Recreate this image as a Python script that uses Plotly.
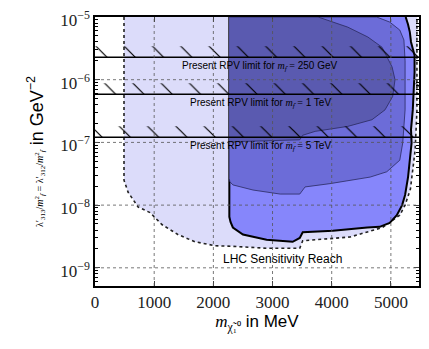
import math

import plotly.graph_objects as go

# axis ticks
x_ticks = [0, 1000, 2000, 3000, 4000, 5000]
y_ticks = [1e-9, 1e-8, 1e-7, 1e-6, 1e-5]
y_ticktext = ["10<sup>−9</sup>", "10<sup>−8</sup>", "10<sup>−7</sup>", "10<sup>−6</sup>", "10<sup>−5</sup>"]

# light region: everything probed (dotted boundary)
reach_x = [490, 490, 560, 730, 930, 1130, 1400, 1690, 2030, 2330, 2900, 3460, 3510, 3750,
           4310, 4860, 5150, 5240, 5330, 5410, 5440, 5440]
reach_y = [1e-5, 2.5e-8, 1.6e-8, 9.3e-9, 7.6e-9, 4.9e-9, 3.4e-9, 2.6e-9, 2.25e-9, 2.2e-9,
           2.05e-9, 2.05e-9, 2.7e-9, 2.8e-9, 3.1e-9, 4.4e-9, 6.9e-9, 1.0e-8, 1.8e-8, 7.6e-8,
           3.2e-7, 1e-5]

# LHC sensitivity reach (thick black outline)
lhc_x = [2270, 2270, 2290, 2330, 2500, 2900, 3340, 3460, 3510, 4020, 4600, 4810, 4980, 5100,
         5190, 5240, 5290, 5350, 5340, 5370, 5400, 5400, 5340, 5320, 5290, 5250]
lhc_y = [1e-5, 6.5e-9, 5.4e-9, 4.4e-9, 3.4e-9, 2.8e-9, 2.6e-9, 3.0e-9, 3.7e-9, 3.9e-9, 4.4e-9,
         4.5e-9, 5.2e-9, 6.9e-9, 1.0e-8, 1.45e-8, 2.8e-8, 9.8e-8, 1.6e-7, 3.3e-7, 1.3e-6,
         2.45e-6, 4.0e-6, 5.75e-6, 7.6e-6, 1e-5]

# inner contour
mid_x = [2270, 4760, 4980, 5150, 5220, 5240, 5240, 5200, 5150, 4930, 4650, 4360, 3970, 3550,
         3460, 3130, 2670, 2330, 2280, 2270]
mid_y = [1e-5, 1e-5, 8.3e-6, 6.2e-6, 4.3e-6, 2.0e-6, 3.3e-7, 9.8e-8, 5.2e-8, 3.4e-8, 2.8e-8,
         2.5e-8, 2.2e-8, 1.95e-8, 1.5e-8, 1.5e-8, 1.74e-8, 2.1e-8, 2.35e-8, 2.6e-8]

# innermost contour
core_x = [2270, 3770, 4270, 4610, 4850, 5020, 5070, 5030, 4900, 4680, 4270, 3720, 3510, 3460,
          2270]
core_y = [1e-5, 1e-5, 6.9e-6, 4.8e-6, 3.3e-6, 1.6e-6, 1.0e-6, 5.4e-7, 3.3e-7, 2.3e-7, 1.8e-7,
          1.5e-7, 1.3e-7, 1.1e-7, 1.02e-7]

# present RPV limits
limit_masses = ["250 GeV", "1 TeV", "5 TeV"]
limit_values = [2.28e-6, 5.86e-7, 1.21e-7]

X_MAX = 5475
HATCH = 1.5  # band height factor above each limit

fig = go.Figure()

fig.add_trace(go.Scatter(x=reach_x, y=reach_y, fill="toself", fillcolor="#dcdcfa",
                         line=dict(color="#222", width=1.6, dash="dot"), mode="lines"))
fig.add_trace(go.Scatter(x=lhc_x, y=lhc_y, fill="toself", fillcolor="#8686fb",
                         line=dict(color="black", width=2), mode="lines"))
fig.add_trace(go.Scatter(x=mid_x, y=mid_y, fill="toself", fillcolor="#6c6cd8",
                         line=dict(color="#2a2a60", width=0.8), mode="lines"))
fig.add_trace(go.Scatter(x=core_x, y=core_y, fill="toself", fillcolor="#5a5ab0",
                         line=dict(color="#2a2a60", width=0.8), mode="lines"))

for v in limit_values:
    fig.add_trace(go.Scatter(
        x=[0, X_MAX, X_MAX, 0], y=[v, v, v * HATCH, v * HATCH], mode="lines",
        fill="toself", fillcolor="rgba(0,0,0,0)", line=dict(width=0),
        fillpattern=dict(shape="\\", fgcolor="black", fgopacity=1,
                         bgcolor="rgba(0,0,0,0)", size=20, solidity=0.06)))
    fig.add_trace(go.Scatter(x=[0, X_MAX], y=[v, v], mode="lines",
                             line=dict(color="black", width=1.4)))

for m, v in zip(limit_masses, limit_values):
    fig.add_annotation(
        x=2790, y=math.log10(v), yref="y", xref="x", yanchor="top", showarrow=False,
        yshift=-1,
        text=("Present RPV limit for <span style=\"font-family:Liberation Serif\">"
              "<i>m</i><sub><i>f̃</i></sub> =</span> " + m),
        font=dict(family="Liberation Sans", size=10, color="black"))

fig.add_annotation(x=3176, y=math.log10(1.39e-9), showarrow=False,
                   text="LHC Sensitivity Reach",
                   font=dict(family="Liberation Sans", size=12, color="black"))

# dotted grid drawn on top of the filled regions
for t in x_ticks[1:]:
    fig.add_shape(type="line", xref="x", yref="paper", x0=t, x1=t, y0=0, y1=1,
                  line=dict(color="#555", width=0.8, dash="dot"), layer="above")
for t in y_ticks[:-1]:
    fig.add_shape(type="line", xref="paper", yref="y", x0=0, x1=1, y0=t, y1=t,
                  line=dict(color="#555", width=0.8, dash="dot"), layer="above")

minor_y = [m * 10.0 ** e for e in range(-10, -5) for m in range(2, 10)]

# page body adds an 8px offset, so the figure is 8px smaller than the window
fig.update_layout(
    width=421, height=341, showlegend=False,
    margin=dict(l=87, r=10, t=9, b=63),
    plot_bgcolor="white", paper_bgcolor="white",
    xaxis=dict(range=[0, X_MAX], tickvals=x_ticks, ticks="inside", ticklen=5,
               mirror="allticks", showline=True, linecolor="black", linewidth=1.5,
               showgrid=False, zeroline=False, automargin=False,
               ticklabeloverflow="allow",
               tickfont=dict(family="Liberation Serif", size=17, color="#222"),
               title=dict(text="<span style=\"font-family:Liberation Serif\"><i>m</i>"
                               "<sub>χ̃₁⁰</sub></span> in MeV",
                          font=dict(family="Liberation Sans", size=17, color="black"),
                          standoff=2)),
    yaxis=dict(type="log", range=[-9.29, -5], tickvals=y_ticks, ticktext=y_ticktext,
               ticks="inside", ticklen=5, mirror="allticks", showline=True,
               linecolor="black", linewidth=1.5, showgrid=False, zeroline=False,
               automargin=False, ticklabeloverflow="allow", ticklabelshift=3,
               minor=dict(tickvals=minor_y, ticks="inside", ticklen=3, tickcolor="black"),
               tickfont=dict(family="Liberation Serif", size=17, color="#222"),
               title=dict(text="<span style=\"font-size:10px;font-family:Liberation Serif\">"
                               "λ′<sub>313</sub>/<i>m</i><sup>2</sup><sub><i>f̃</i></sub> = "
                               "λ′<sub>312</sub>/<i>m</i><sup>2</sup><sub><i>f̃</i></sub></span>"
                               " in GeV<sup>−2</sup>",
                          font=dict(family="Liberation Sans", size=18, color="black"),
                          standoff=12)),
)

fig.write_html("out.html")
